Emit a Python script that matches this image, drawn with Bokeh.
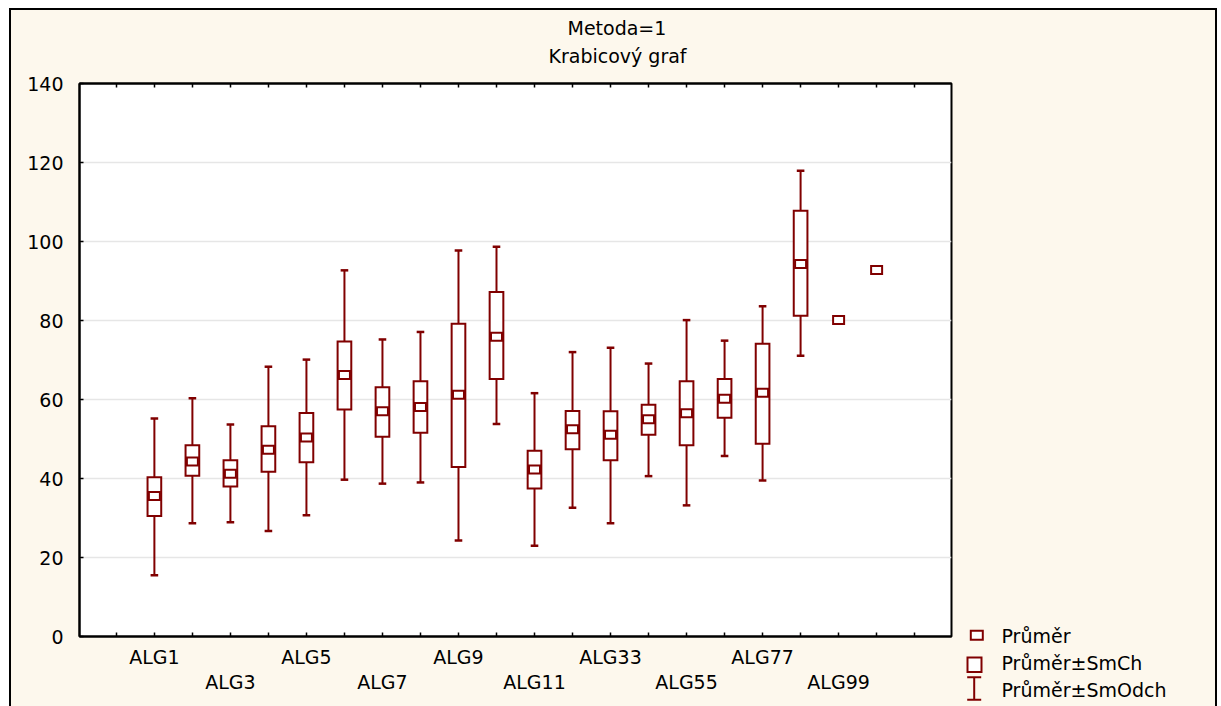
import numpy as np
from bokeh.plotting import figure
from bokeh.layouts import row
from bokeh.models import Range1d, FixedTicker, LinearAxis, Title, ColumnDataSource
from bokeh.core.properties import value
from bokeh.embed import file_html
from bokeh.resources import INLINE

# ---------------- data ----------------
categories = ["ALG1", "ALG2", "ALG3", "ALG4", "ALG5", "ALG6", "ALG7", "ALG8", "ALG9", "ALG10",
              "ALG11", "ALG22", "ALG33", "ALG44", "ALG55", "ALG66", "ALG77", "ALG88", "ALG99", "ALG111"]
# mean
means = [35.6, 44.3, 41.2, 47.3, 50.4, 66.2, 57.0, 58.1, 61.2, 75.9,
         42.3, 52.5, 51.1, 55.0, 56.5, 60.2, 61.7, 94.3, 80.1, 92.8]
# mean - SE / mean + SE (box)
se_lo = [30.5, 40.7, 38.0, 41.7, 44.1, 57.5, 50.6, 51.6, 42.9, 65.2,
         37.5, 47.4, 44.6, 51.1, 48.4, 55.4, 48.8, 81.2, None, None]
se_hi = [40.3, 48.4, 44.6, 53.2, 56.6, 74.7, 63.1, 64.6, 79.2, 87.2,
         47.0, 57.1, 57.0, 58.7, 64.6, 65.2, 74.1, 107.8, None, None]
# mean - SD / mean + SD (whiskers)
sd_lo = [15.5, 28.7, 28.9, 26.7, 30.7, 39.7, 38.7, 39.0, 24.3, 53.8,
         23.0, 32.6, 28.7, 40.6, 33.2, 45.7, 39.5, 71.1, None, None]
sd_hi = [55.2, 60.3, 53.7, 68.3, 70.1, 92.7, 75.2, 77.1, 97.7, 98.7,
         61.6, 72.0, 73.1, 69.1, 80.1, 74.9, 83.6, 117.9, None, None]
y_ticks = [0, 20, 40, 60, 80, 100, 120, 140]
title_lines = ["Metoda=1", "Krabicový graf"]
legend_labels = ["Průměr", "Průměr±SmCh", "Průměr±SmOdch"]

# ---------------- styling ----------------
RED = "#800000"
BG = "#fdf8ed"
FONT = "DejaVu Sans"
H = 696


def arr(v):
    return np.array([np.nan if a is None else a for a in v], dtype=float)


pos = np.arange(1, len(categories) + 1, dtype=float)
src = ColumnDataSource(dict(
    x=pos, cap0=pos - 0.1, cap1=pos + 0.1,
    mean=arr(means), se_lo=arr(se_lo), se_hi=arr(se_hi),
    sd_lo=arr(sd_lo), sd_hi=arr(sd_hi)))

p = figure(width=950, height=H,
           x_range=Range1d(-0.97, len(categories) + 1.97), y_range=Range1d(0, 140),
           output_backend="svg", toolbar_location=None,
           min_border_left=68, min_border_right=10, min_border_top=73, min_border_bottom=70,
           background_fill_color="white", border_fill_color=BG)

p.outline_line_color = "black"
p.outline_line_width = 2
p.outline_line_alpha = 1
p.xgrid.visible = False
p.ygrid.ticker = FixedTicker(ticks=y_ticks)
p.ygrid.grid_line_color = "#e6e6e6"
p.ygrid.grid_line_width = 1.5

# y axis
ya = p.yaxis[0]
ya.ticker = FixedTicker(ticks=y_ticks)
ya.major_tick_in = 4
ya.major_tick_out = 0
ya.minor_tick_line_color = None
ya.axis_line_width = 2
ya.major_tick_line_width = 1.5
ya.major_label_text_font = FONT
ya.major_label_text_font_size = "19px"
ya.major_label_text_color = "black"
ya.major_label_standoff = 16

ticks_x = list(range(0, len(categories) + 2))
row1 = {i + 1: c for i, c in enumerate(categories) if i % 4 == 0}
row2 = {i + 1: c for i, c in enumerate(categories) if i % 4 == 2}

xa = p.xaxis[0]
xa.ticker = FixedTicker(ticks=ticks_x)
xa.major_label_overrides = {t: row1.get(t, "") for t in ticks_x}
xa.major_tick_in = 4
xa.major_tick_out = 0
xa.minor_tick_line_color = None
xa.axis_line_width = 2
xa.major_tick_line_width = 1.5
xa.major_label_text_font = FONT
xa.major_label_text_font_size = "19px"
xa.major_label_text_color = "black"
xa.major_label_standoff = 9

xa2 = LinearAxis(ticker=FixedTicker(ticks=list(row2.keys())),
                 major_label_overrides=row2,
                 major_tick_in=0, major_tick_out=0, minor_tick_line_color=None,
                 axis_line_color=None, major_tick_line_color=None,
                 major_label_text_font=FONT, major_label_text_font_size="19px",
                 major_label_text_color="black", major_label_standoff=0)
p.add_layout(xa2, "below")

# top frame edge with inward ticks; blank labels reserve a little room under the titles
top = LinearAxis(ticker=FixedTicker(ticks=ticks_x),
                 major_label_overrides={t: " " for t in ticks_x},
                 major_label_text_font_size="10px", major_label_standoff=1,
                 major_tick_in=4, major_tick_out=0, minor_tick_line_color=None,
                 axis_line_width=2, major_tick_line_width=1.5)
p.add_layout(top, "above")

# titles (centred over the whole chart, not just the frame)
p.add_layout(Title(text=title_lines[1], align="left", offset=469, standoff=4,
                   text_font=FONT, text_font_size="19px", text_font_style="normal",
                   text_color="black"), "above")
p.add_layout(Title(text=title_lines[0], align="left", offset=488, standoff=4,
                   text_font=FONT, text_font_size="19px", text_font_style="normal",
                   text_color="black"), "above")

# ---------------- glyphs ----------------
lw = 2
p.segment(x0="x", y0="sd_lo", x1="x", y1="sd_hi", source=src, line_color=RED, line_width=lw)
p.segment(x0="cap0", y0="sd_hi", x1="cap1", y1="sd_hi", source=src, line_color=RED, line_width=lw + 0.5)
p.segment(x0="cap0", y0="sd_lo", x1="cap1", y1="sd_lo", source=src, line_color=RED, line_width=lw + 0.5)
p.vbar(x="x", width=0.36, bottom="se_lo", top="se_hi", source=src,
       fill_color="white", line_color=RED, line_width=lw, line_join="miter")
p.rect(x="x", y="mean", width=11, height=8, width_units="screen", height_units="screen",
       source=src, fill_color="white", line_color=RED, line_width=lw, line_join="miter")

# ---------------- legend panel (pixel-like coordinates, y downwards) ----------------
LW = 254
leg = figure(width=LW, height=H, x_range=Range1d(0, LW), y_range=Range1d(H, 0),
             output_backend="svg", toolbar_location=None,
             x_axis_location=None, y_axis_location=None,
             min_border=0, min_border_left=0, min_border_right=0,
             min_border_top=0, min_border_bottom=0,
             background_fill_color=BG, border_fill_color=BG)
leg.outline_line_color = None
leg.grid.visible = False
for fig in (p, leg):
    try:
        fig.frame_align = False
    except Exception:
        pass

# symbol: mean
leg.rect(x=[15.3], y=[624.7], width=12, height=9, fill_color="white",
         line_color=RED, line_width=2, line_join="miter")
# symbol: mean +- SE box
leg.rect(x=[13.0], y=[654.2], width=14, height=14.5, fill_color="white",
         line_color=RED, line_width=2, line_join="miter")
# symbol: mean +- SD whisker
leg.segment(x0=[12.7, 5.7, 5.7], y0=[666.7, 666.7, 689.3],
            x1=[12.7, 19.7, 19.7], y1=[689.3, 666.7, 689.3],
            line_color=RED, line_width=2)
leg.text(x=[40, 40, 40], y=[625.0, 652.5, 679.5], text=legend_labels,
         text_font=value(FONT), text_font_size="19px", text_color="black",
         text_baseline="alphabetic", text_align="left")

layout = row(p, leg, spacing=0)
layout.styles = {"border-top": "2px solid black", "border-left": "2px solid black",
                 "border-right": "2px solid black", "margin-top": "8px", "margin-left": "9px",
                 "background-color": BG}

open("out.html", "w").write(file_html(layout, INLINE))
